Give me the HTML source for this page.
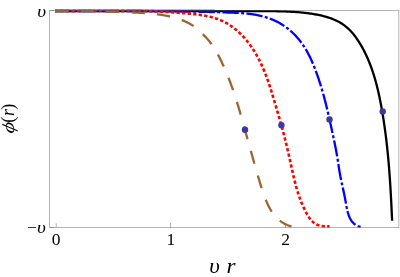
<!DOCTYPE html>
<html><head><meta charset="utf-8"><style>
html,body{margin:0;padding:0;background:#fff;}
body{width:400px;height:277px;overflow:hidden;position:relative;}
svg{position:absolute;left:0;top:0;will-change:transform;}
text{font-family:"Liberation Serif",serif;fill:#000;}
.i{font-style:italic;}
</style></head><body>
<svg width="400" height="277" viewBox="0 0 400 277">
<rect width="400" height="277" fill="#fff"/>
<g fill="none" stroke-linejoin="round">
<path d="M55.00 11.00 L56.19 11.00 L57.38 11.00 L58.56 11.00 L59.75 11.00 L60.94 11.00 L62.13 11.00 L63.32 11.00 L64.50 11.00 L65.69 11.00 L66.88 11.00 L68.07 11.00 L69.25 11.00 L70.44 11.00 L71.63 11.00 L72.82 11.00 L74.01 11.00 L75.19 11.00 L76.38 11.00 L77.57 11.00 L78.76 11.00 L79.95 11.00 L81.13 11.00 L82.32 11.00 L83.51 11.00 L84.70 11.00 L85.89 11.00 L87.07 11.00 L88.26 11.00 L89.45 11.00 L90.64 11.00 L91.82 11.00 L93.01 11.00 L94.20 11.00 L95.39 11.00 L96.58 11.00 L97.76 11.00 L98.95 11.00 L100.14 11.00 L101.33 11.00 L102.52 11.00 L103.70 11.00 L104.89 11.00 L106.08 11.00 L107.27 11.00 L108.46 11.00 L109.64 11.00 L110.83 11.00 L112.02 11.00 L113.21 11.00 L114.39 11.00 L115.58 11.00 L116.77 11.00 L117.96 11.00 L119.15 11.00 L120.33 11.00 L121.52 11.00 L122.71 11.00 L123.90 11.00 L125.09 11.00 L126.27 11.00 L127.46 11.00 L128.65 11.00 L129.84 11.00 L131.03 11.00 L132.21 11.00 L133.40 11.00 L134.59 11.00 L135.78 11.00 L136.96 11.00 L138.15 11.00 L139.34 11.00 L140.53 11.00 L141.72 11.00 L142.90 11.00 L144.09 11.00 L145.28 11.00 L146.47 11.00 L147.66 11.00 L148.84 11.00 L150.03 11.00 L151.22 11.00 L152.41 11.00 L153.60 11.00 L154.78 11.00 L155.97 11.00 L157.16 11.00 L158.35 11.00 L159.53 11.00 L160.72 11.00 L161.91 11.00 L163.10 11.00 L164.29 11.00 L165.47 11.00 L166.66 11.00 L167.85 11.00 L169.04 11.00 L170.23 11.00 L171.41 11.00 L172.60 11.00 L173.79 11.00 L174.98 11.00 L176.17 11.00 L177.35 11.00 L178.54 11.00 L179.73 11.00 L180.92 11.00 L182.10 11.00 L183.29 11.00 L184.48 11.00 L185.67 11.00 L186.86 11.00 L188.04 11.00 L189.23 11.00 L190.42 11.00 L191.61 11.00 L192.80 11.00 L193.98 11.00 L195.17 11.00 L196.36 11.00 L197.55 11.00 L198.73 11.00 L199.92 11.00 L201.11 11.00 L202.30 11.00 L203.49 11.00 L204.67 11.00 L205.86 11.00 L207.05 11.00 L208.24 11.00 L209.43 11.00 L210.61 11.00 L211.80 11.00 L212.99 11.00 L214.18 11.00 L215.33 11.09 L216.51 11.10 L217.70 11.10 L218.89 11.11 L220.08 11.12 L221.27 11.12 L222.45 11.13 L223.64 11.13 L224.83 11.14 L226.02 11.15 L227.20 11.15 L228.39 11.16 L229.58 11.16 L230.77 11.17 L231.96 11.17 L233.14 11.18 L234.33 11.18 L235.52 11.18 L236.71 11.19 L237.90 11.19 L239.08 11.19 L240.27 11.20 L241.46 11.20 L242.65 11.20 L243.83 11.20 L245.02 11.20 L246.21 11.20 L247.40 11.20 L248.59 11.20 L249.77 11.20 L250.96 11.20 L252.15 11.20 L253.34 11.20 L254.53 11.20 L255.71 11.19 L256.90 11.19 L258.09 11.19 L259.28 11.18 L260.47 11.18 L261.65 11.17 L262.84 11.17 L264.03 11.17 L265.22 11.17 L266.40 11.17 L267.59 11.17 L268.78 11.17 L269.97 11.17 L271.16 11.18 L272.34 11.19 L273.53 11.20 L274.72 11.21 L275.91 11.22 L277.10 11.24 L278.28 11.26 L279.47 11.28 L280.66 11.31 L281.85 11.34 L283.03 11.37 L284.22 11.41 L285.41 11.45 L286.59 11.50 L287.78 11.55 L288.97 11.60 L290.15 11.66 L291.34 11.73 L292.53 11.79 L293.71 11.87 L294.90 11.95 L296.08 12.03 L297.27 12.13 L298.45 12.22 L299.63 12.32 L300.82 12.43 L302.00 12.55 L303.18 12.67 L304.36 12.80 L305.54 12.94 L306.72 13.08 L307.90 13.23 L309.08 13.39 L310.25 13.55 L311.43 13.73 L312.60 13.91 L313.78 14.10 L314.95 14.30 L316.12 14.50 L317.28 14.72 L318.45 14.96 L319.61 15.20 L320.77 15.45 L321.93 15.72 L323.08 16.00 L324.23 16.30 L325.38 16.61 L326.52 16.94 L327.66 17.28 L328.79 17.64 L329.92 18.02 L331.03 18.42 L332.15 18.84 L333.25 19.27 L334.35 19.73 L335.43 20.21 L336.51 20.71 L337.58 21.24 L338.63 21.79 L339.67 22.36 L340.70 22.96 L341.71 23.58 L342.70 24.23 L343.68 24.90 L344.64 25.60 L345.58 26.33 L346.50 27.08 L347.40 27.85 L348.28 28.65 L349.14 29.47 L349.98 30.31 L350.81 31.17 L351.61 32.04 L352.40 32.93 L353.17 33.84 L353.92 34.76 L354.65 35.69 L355.37 36.64 L356.07 37.59 L356.76 38.56 L357.44 39.54 L358.10 40.53 L358.74 41.52 L359.38 42.53 L360.00 43.54 L360.61 44.56 L361.20 45.59 L361.79 46.62 L362.37 47.66 L362.94 48.70 L363.49 49.75 L364.04 50.81 L364.58 51.86 L365.11 52.93 L365.63 54.00 L366.13 55.07 L366.63 56.15 L367.12 57.23 L367.61 58.32 L368.08 59.41 L368.54 60.50 L368.99 61.60 L369.44 62.70 L369.88 63.80 L370.30 64.91 L370.72 66.02 L371.14 67.14 L371.54 68.25 L371.94 69.37 L372.32 70.50 L372.70 71.62 L373.08 72.75 L373.44 73.88 L373.80 75.01 L374.15 76.15 L374.49 77.29 L374.83 78.42 L375.16 79.57 L375.49 80.71 L375.80 81.85 L376.11 83.00 L376.42 84.15 L376.72 85.30 L377.01 86.45 L377.30 87.60 L377.58 88.76 L377.86 89.91 L378.13 91.07 L378.39 92.22 L378.66 93.38 L378.91 94.54 L379.16 95.70 L379.41 96.87 L379.65 98.03 L379.89 99.19 L380.13 100.36 L380.36 101.52 L380.59 102.69 L380.81 103.85 L381.03 105.02 L381.25 106.19 L381.46 107.36 L381.67 108.53 L381.88 109.70 L382.08 110.87 L382.28 112.04 L382.48 113.21 L382.68 114.38 L382.87 115.55 L383.06 116.73 L383.25 117.90 L383.43 119.07 L383.62 120.25 L383.80 121.42 L383.97 122.59 L384.15 123.77 L384.32 124.94 L384.49 126.12 L384.66 127.30 L384.82 128.47 L384.98 129.65 L385.14 130.83 L385.30 132.00 L385.46 133.18 L385.61 134.36 L385.76 135.54 L385.91 136.72 L386.05 137.90 L386.20 139.08 L386.34 140.25 L386.48 141.43 L386.61 142.61 L386.75 143.79 L386.88 144.98 L387.01 146.16 L387.14 147.34 L387.26 148.52 L387.39 149.70 L387.51 150.88 L387.63 152.06 L387.75 153.25 L387.86 154.43 L387.98 155.61 L388.09 156.79 L388.20 157.98 L388.31 159.16 L388.42 160.34 L388.52 161.52 L388.62 162.71 L388.73 163.89 L388.82 165.08 L388.92 166.26 L389.02 167.44 L389.11 168.63 L389.21 169.81 L389.30 171.00 L389.39 172.18 L389.48 173.36 L389.56 174.55 L389.65 175.73 L389.73 176.92 L389.82 178.10 L389.90 179.29 L389.98 180.47 L390.06 181.66 L390.13 182.84 L390.21 184.03 L390.29 185.22 L390.36 186.40 L390.43 187.59 L390.50 188.77 L390.57 189.96 L390.64 191.14 L390.71 192.33 L390.78 193.52 L390.84 194.70 L390.91 195.89 L390.97 197.07 L391.04 198.26 L391.10 199.45 L391.16 200.63 L391.22 201.82 L391.28 203.01 L391.34 204.19 L391.40 205.38 L391.45 206.57 L391.51 207.75 L391.57 208.94 L391.62 210.13 L391.68 211.31 L391.73 212.50 L391.78 213.69 L391.84 214.87 L391.89 216.06 L391.94 217.25 L391.99 218.43 L392.04 219.62 L392.09 220.81" stroke="#000" stroke-width="2.3"/>
<path d="M55.00 11.00 L56.08 11.00 L57.17 11.00 L58.25 11.00 L59.33 11.00 L60.41 11.00 L61.50 11.00 L62.58 11.00 L63.66 11.00 L64.75 11.00 L65.83 11.00 L66.91 11.00 L67.99 11.00 L69.08 11.00 L70.16 11.00 L71.24 11.00 L72.32 11.00 L73.41 11.00 L74.49 11.00 L75.57 11.00 L76.66 11.00 L77.74 11.00 L78.82 11.00 L79.90 11.00 L80.99 11.00 L82.07 11.00 L83.15 11.00 L84.24 11.00 L85.32 11.00 L86.40 11.00 L87.48 11.00 L88.57 11.00 L89.65 11.00 L90.73 11.00 L91.82 11.00 L92.90 11.00 L93.98 11.00 L95.06 11.00 L96.15 11.00 L97.23 11.00 L98.31 11.00 L99.39 11.00 L100.48 11.00 L101.56 11.00 L102.64 11.00 L103.73 11.00 L104.81 11.00 L105.89 11.00 L106.97 11.00 L108.06 11.00 L109.14 11.00 L110.22 11.00 L111.31 11.00 L112.39 11.00 L113.47 11.00 L114.55 11.00 L115.64 11.00 L116.72 11.00 L117.80 11.00 L118.88 11.00 L119.97 11.00 L121.05 11.00 L122.13 11.00 L123.22 11.00 L124.30 11.00 L125.38 11.00 L126.46 11.00 L127.55 11.00 L128.63 11.00 L129.71 11.00 L130.80 11.00 L131.88 11.00 L132.96 11.00 L134.04 11.00 L135.13 11.00 L136.21 11.00 L137.29 11.00 L138.38 11.00 L139.46 11.00 L140.54 11.00 L141.62 11.00 L142.71 11.00 L143.79 11.00 L144.87 11.00 L145.95 11.00 L147.04 11.00 L148.12 11.00 L149.20 11.00 L150.29 11.00 L151.37 11.00 L152.45 11.00 L153.49 11.09 L154.57 11.10 L155.66 11.11 L156.74 11.12 L157.82 11.13 L158.91 11.14 L159.99 11.14 L161.07 11.15 L162.15 11.16 L163.24 11.17 L164.32 11.19 L165.40 11.20 L166.49 11.21 L167.57 11.22 L168.65 11.23 L169.73 11.24 L170.82 11.26 L171.90 11.27 L172.98 11.28 L174.06 11.30 L175.15 11.31 L176.23 11.33 L177.31 11.34 L178.39 11.36 L179.48 11.37 L180.56 11.39 L181.64 11.41 L182.73 11.43 L183.81 11.44 L184.89 11.46 L185.97 11.48 L187.06 11.50 L188.14 11.52 L189.22 11.54 L190.30 11.56 L191.39 11.58 L192.47 11.60 L193.55 11.62 L194.63 11.64 L195.72 11.67 L196.80 11.69 L197.88 11.71 L198.96 11.74 L200.05 11.76 L201.13 11.78 L202.21 11.81 L203.29 11.83 L204.38 11.86 L205.46 11.89 L206.54 11.91 L207.62 11.94 L208.71 11.97 L209.79 11.99 L210.87 12.02 L211.95 12.05 L213.04 12.08 L214.12 12.11 L215.20 12.13 L216.28 12.16 L217.37 12.19 L218.45 12.22 L219.53 12.26 L220.61 12.29 L221.70 12.32 L222.78 12.35 L223.86 12.38 L224.94 12.41 L226.02 12.45 L227.11 12.48 L228.19 12.51 L229.27 12.55 L230.35 12.58 L231.44 12.62 L232.52 12.66 L233.60 12.70 L234.68 12.75 L235.76 12.79 L236.85 12.85 L237.93 12.90 L239.01 12.96 L240.09 13.03 L241.17 13.10 L242.25 13.18 L243.33 13.26 L244.41 13.35 L245.49 13.45 L246.56 13.56 L247.64 13.67 L248.72 13.79 L249.79 13.92 L250.87 14.06 L251.94 14.21 L253.01 14.37 L254.08 14.54 L255.15 14.72 L256.21 14.91 L257.27 15.11 L258.34 15.33 L259.39 15.56 L260.45 15.80 L261.50 16.05 L262.55 16.32 L263.60 16.61 L264.64 16.90 L265.68 17.21 L266.71 17.54 L267.74 17.88 L268.76 18.23 L269.78 18.60 L270.79 18.98 L271.80 19.38 L272.80 19.79 L273.79 20.22 L274.78 20.66 L275.76 21.12 L276.74 21.59 L277.70 22.08 L278.66 22.59 L279.61 23.11 L280.55 23.64 L281.48 24.20 L282.40 24.76 L283.32 25.35 L284.22 25.95 L285.11 26.56 L285.99 27.19 L286.86 27.84 L287.72 28.50 L288.57 29.17 L289.40 29.86 L290.23 30.56 L291.04 31.27 L291.84 32.00 L292.64 32.74 L293.41 33.49 L294.18 34.25 L294.94 35.03 L295.68 35.81 L296.42 36.61 L297.14 37.42 L297.85 38.24 L298.55 39.06 L299.23 39.90 L299.91 40.75 L300.57 41.60 L301.22 42.47 L301.86 43.34 L302.49 44.23 L303.10 45.12 L303.70 46.02 L304.29 46.93 L304.87 47.84 L305.44 48.76 L305.99 49.69 L306.54 50.63 L307.07 51.57 L307.59 52.52 L308.10 53.48 L308.60 54.44 L309.10 55.40 L309.58 56.37 L310.05 57.34 L310.52 58.32 L310.97 59.30 L311.42 60.29 L311.86 61.28 L312.29 62.27 L312.72 63.27 L313.14 64.27 L313.55 65.27 L313.96 66.27 L314.36 67.27 L314.76 68.28 L315.15 69.29 L315.54 70.30 L315.92 71.32 L316.30 72.33 L316.67 73.35 L317.04 74.37 L317.40 75.39 L317.76 76.41 L318.12 77.43 L318.47 78.46 L318.81 79.48 L319.15 80.51 L319.49 81.54 L319.82 82.57 L320.15 83.60 L320.47 84.63 L320.79 85.67 L321.11 86.70 L321.42 87.74 L321.73 88.78 L322.04 89.82 L322.34 90.86 L322.64 91.90 L322.94 92.94 L323.23 93.98 L323.52 95.02 L323.80 96.07 L324.09 97.11 L324.37 98.16 L324.64 99.21 L324.92 100.25 L325.19 101.30 L325.46 102.35 L325.73 103.40 L325.99 104.45 L326.25 105.50 L326.51 106.55 L326.77 107.60 L327.02 108.66 L327.28 109.71 L327.53 110.76 L327.78 111.82 L328.03 112.87 L328.27 113.92 L328.52 114.98 L328.76 116.03 L329.00 117.09 L329.24 118.15 L329.48 119.20 L329.71 120.26 L329.95 121.32 L330.18 122.37 L330.42 123.43 L330.65 124.49 L330.88 125.55 L331.11 126.60 L331.35 127.66 L331.58 128.72 L331.80 129.78 L332.03 130.84 L332.26 131.89 L332.49 132.95 L332.72 134.01 L332.95 135.07 L333.17 136.13 L333.40 137.19 L333.63 138.25 L333.85 139.31 L334.07 140.36 L334.30 141.42 L334.52 142.48 L334.73 143.55 L334.95 144.61 L335.16 145.67 L335.38 146.73 L335.58 147.79 L335.79 148.86 L335.99 149.92 L336.19 150.98 L336.39 152.05 L336.58 153.11 L336.77 154.18 L336.96 155.25 L337.14 156.31 L337.32 157.38 L337.49 158.45 L337.66 159.52 L337.83 160.59 L337.99 161.66 L338.15 162.73 L338.31 163.80 L338.47 164.87 L338.63 165.94 L338.79 167.01 L338.96 168.08 L339.12 169.15 L339.29 170.22 L339.46 171.29 L339.64 172.36 L339.82 173.43 L340.01 174.49 L340.21 175.56 L340.41 176.62 L340.62 177.69 L340.83 178.75 L341.05 179.81 L341.28 180.87 L341.50 181.93 L341.73 182.98 L341.97 184.04 L342.20 185.10 L342.44 186.15 L342.67 187.21 L342.91 188.27 L343.14 189.33 L343.38 190.38 L343.61 191.44 L343.84 192.50 L344.06 193.56 L344.29 194.62 L344.50 195.68 L344.72 196.74 L344.92 197.80 L345.13 198.87 L345.32 199.93 L345.51 201.00 L345.70 202.06 L345.88 203.13 L346.07 204.20 L346.26 205.26 L346.45 206.33 L346.66 207.39 L346.87 208.45 L347.10 209.51 L347.34 210.57 L347.60 211.62 L347.88 212.66 L348.19 213.70 L348.53 214.73 L348.90 215.75 L349.30 216.75 L349.74 217.74 L350.22 218.71 L350.76 219.65 L351.34 220.57 L351.97 221.45 L352.66 222.28 L353.40 223.07 L354.20 223.80 L355.05 224.47 L355.95 225.07 L356.90 225.60 L357.88 226.05 L358.90 226.42 L359.94 226.71 L361.00 226.92" stroke="#0000ff" stroke-width="2.3" stroke-dasharray="16.3 2.4 3.0 2.3" stroke-dashoffset="0.5"/>
<path d="M55.00 11.00 L55.98 11.00 L56.97 11.00 L57.95 11.00 L58.94 11.00 L59.92 11.00 L60.91 11.00 L61.89 11.00 L62.87 11.00 L63.86 11.00 L64.84 11.00 L65.83 11.00 L66.81 11.00 L67.80 11.00 L68.78 11.00 L69.72 11.09 L70.70 11.09 L71.69 11.09 L72.67 11.09 L73.66 11.09 L74.60 11.00 L75.58 11.00 L76.57 11.00 L77.55 11.00 L78.54 11.00 L79.52 11.00 L80.50 11.00 L81.49 11.00 L82.47 11.00 L83.46 11.00 L84.44 11.00 L85.43 11.00 L86.41 11.00 L87.39 11.00 L88.38 11.00 L89.36 11.00 L90.35 11.00 L91.33 11.00 L92.32 11.00 L93.30 11.00 L94.28 11.00 L95.27 11.00 L96.25 11.00 L97.24 11.00 L98.22 11.00 L99.21 11.00 L100.19 11.00 L101.17 11.00 L102.16 11.00 L103.14 11.00 L104.13 11.00 L105.11 11.00 L106.10 11.00 L107.08 11.00 L108.07 11.00 L109.05 11.00 L110.03 11.00 L111.02 11.00 L112.00 11.00 L112.99 11.00 L113.97 11.00 L114.96 11.00 L115.94 11.00 L116.92 11.00 L117.91 11.00 L118.89 11.00 L119.88 11.00 L120.86 11.00 L121.85 11.00 L122.83 11.00 L123.81 11.00 L124.80 11.00 L125.78 11.00 L126.77 11.00 L127.75 11.00 L128.74 11.00 L129.72 11.00 L130.70 11.00 L131.69 11.00 L132.67 11.00 L133.66 11.00 L134.64 11.00 L135.63 11.00 L136.61 11.00 L137.60 11.00 L138.58 11.00 L139.56 11.00 L140.53 11.03 L141.49 11.11 L142.47 11.13 L143.46 11.15 L144.44 11.17 L145.42 11.19 L146.41 11.21 L147.39 11.24 L148.38 11.26 L149.36 11.29 L150.34 11.32 L151.33 11.35 L152.31 11.38 L153.30 11.41 L154.28 11.44 L155.26 11.48 L156.25 11.51 L157.23 11.55 L158.21 11.59 L159.20 11.63 L160.18 11.67 L161.16 11.71 L162.15 11.76 L163.13 11.80 L164.11 11.85 L165.10 11.90 L166.08 11.95 L167.06 12.00 L168.05 12.06 L169.03 12.11 L170.01 12.17 L170.99 12.23 L171.98 12.29 L172.96 12.35 L173.94 12.42 L174.92 12.48 L175.91 12.55 L176.89 12.62 L177.87 12.69 L178.85 12.76 L179.83 12.84 L180.81 12.92 L181.79 13.00 L182.78 13.08 L183.76 13.16 L184.74 13.25 L185.72 13.33 L186.70 13.42 L187.68 13.51 L188.66 13.61 L189.64 13.70 L190.62 13.80 L191.60 13.90 L192.58 14.00 L193.55 14.10 L194.53 14.21 L195.51 14.33 L196.49 14.44 L197.46 14.57 L198.44 14.69 L199.42 14.83 L200.39 14.97 L201.36 15.11 L202.34 15.27 L203.31 15.43 L204.28 15.59 L205.25 15.77 L206.21 15.95 L207.18 16.15 L208.14 16.35 L209.10 16.57 L210.06 16.79 L211.01 17.03 L211.97 17.27 L212.92 17.53 L213.86 17.81 L214.81 18.09 L215.74 18.39 L216.68 18.70 L217.60 19.03 L218.53 19.37 L219.44 19.73 L220.36 20.10 L221.26 20.49 L222.16 20.90 L223.05 21.32 L223.93 21.75 L224.80 22.21 L225.67 22.67 L226.53 23.15 L227.38 23.65 L228.22 24.15 L229.06 24.68 L229.89 25.21 L230.70 25.76 L231.51 26.32 L232.31 26.89 L233.11 27.47 L233.89 28.07 L234.67 28.67 L235.43 29.29 L236.19 29.92 L236.94 30.56 L237.68 31.21 L238.41 31.86 L239.14 32.53 L239.85 33.21 L240.56 33.89 L241.26 34.59 L241.95 35.29 L242.63 36.00 L243.30 36.72 L243.96 37.45 L244.62 38.18 L245.27 38.92 L245.90 39.67 L246.54 40.43 L247.16 41.19 L247.77 41.96 L248.38 42.73 L248.98 43.52 L249.57 44.30 L250.15 45.10 L250.72 45.90 L251.29 46.70 L251.85 47.51 L252.40 48.33 L252.94 49.15 L253.48 49.98 L254.00 50.81 L254.52 51.64 L255.04 52.48 L255.54 53.33 L256.04 54.18 L256.53 55.03 L257.01 55.89 L257.49 56.75 L257.95 57.62 L258.42 58.49 L258.87 59.36 L259.32 60.24 L259.76 61.12 L260.19 62.00 L260.62 62.89 L261.04 63.78 L261.46 64.67 L261.87 65.56 L262.27 66.46 L262.67 67.36 L263.06 68.26 L263.45 69.17 L263.83 70.08 L264.20 70.99 L264.57 71.90 L264.94 72.81 L265.30 73.73 L265.66 74.65 L266.01 75.57 L266.35 76.49 L266.70 77.41 L267.04 78.34 L267.37 79.26 L267.70 80.19 L268.03 81.12 L268.35 82.05 L268.67 82.98 L268.98 83.91 L269.30 84.84 L269.61 85.78 L269.91 86.71 L270.22 87.65 L270.52 88.59 L270.82 89.52 L271.11 90.46 L271.41 91.40 L271.70 92.34 L271.99 93.28 L272.28 94.23 L272.56 95.17 L272.85 96.11 L273.13 97.05 L273.41 97.99 L273.69 98.94 L273.97 99.88 L274.25 100.83 L274.53 101.77 L274.81 102.71 L275.09 103.66 L275.36 104.60 L275.64 105.55 L275.92 106.49 L276.19 107.44 L276.47 108.38 L276.75 109.33 L277.03 110.27 L277.30 111.21 L277.58 112.16 L277.86 113.10 L278.13 114.05 L278.41 114.99 L278.68 115.94 L278.96 116.88 L279.23 117.83 L279.50 118.78 L279.77 119.72 L280.05 120.67 L280.32 121.61 L280.58 122.56 L280.85 123.51 L281.12 124.46 L281.38 125.40 L281.65 126.35 L281.91 127.30 L282.17 128.25 L282.43 129.20 L282.69 130.15 L282.94 131.10 L283.19 132.05 L283.45 133.00 L283.70 133.96 L283.94 134.91 L284.19 135.86 L284.44 136.82 L284.68 137.77 L284.92 138.72 L285.16 139.68 L285.40 140.63 L285.64 141.59 L285.87 142.54 L286.11 143.50 L286.34 144.46 L286.57 145.41 L286.80 146.37 L287.03 147.33 L287.26 148.29 L287.48 149.24 L287.71 150.20 L287.93 151.16 L288.15 152.12 L288.37 153.08 L288.59 154.04 L288.81 155.00 L289.03 155.96 L289.25 156.92 L289.46 157.88 L289.68 158.84 L289.89 159.80 L290.10 160.76 L290.31 161.72 L290.52 162.68 L290.73 163.65 L290.94 164.61 L291.15 165.57 L291.36 166.53 L291.57 167.49 L291.78 168.45 L291.99 169.42 L292.20 170.38 L292.42 171.34 L292.63 172.30 L292.85 173.26 L293.06 174.22 L293.28 175.18 L293.51 176.14 L293.73 177.10 L293.96 178.05 L294.19 179.01 L294.42 179.97 L294.65 180.92 L294.89 181.88 L295.13 182.83 L295.38 183.79 L295.63 184.74 L295.89 185.69 L296.14 186.64 L296.41 187.59 L296.68 188.53 L296.95 189.48 L297.23 190.42 L297.51 191.37 L297.80 192.31 L298.10 193.25 L298.40 194.18 L298.71 195.12 L299.02 196.05 L299.34 196.98 L299.67 197.91 L300.01 198.83 L300.35 199.76 L300.70 200.68 L301.06 201.59 L301.42 202.51 L301.79 203.42 L302.18 204.33 L302.57 205.23 L302.96 206.13 L303.37 207.03 L303.79 207.92 L304.21 208.81 L304.64 209.69 L305.09 210.57 L305.54 211.45 L306.00 212.31 L306.47 213.18 L306.95 214.04 L307.44 214.89 L307.95 215.73 L308.48 216.57 L309.02 217.39 L309.58 218.19 L310.18 218.98 L310.79 219.75 L311.44 220.49 L312.12 221.20 L312.84 221.87 L313.59 222.51 L314.37 223.10 L315.19 223.65 L316.05 224.14 L316.93 224.57 L317.84 224.95 L318.77 225.26 L319.72 225.52 L320.68 225.74 L321.65 225.92 L322.62 226.06 L323.60 226.17 L324.58 226.25 L325.57 226.30 L326.55 226.33 L327.53 226.34 L328.52 226.33 L329.50 226.30" stroke="#ff0000" stroke-width="2.6" stroke-dasharray="3.3 2.245" stroke-dashoffset="0.35"/>
<path d="M55.00 11.00 L55.88 11.00 L56.77 11.00 L57.65 11.00 L58.54 11.00 L59.42 11.00 L60.30 11.00 L61.19 11.00 L62.07 11.00 L62.96 11.00 L63.84 11.00 L64.72 11.00 L65.61 11.00 L66.49 11.00 L67.38 11.00 L68.26 11.00 L69.14 11.00 L70.03 11.00 L70.91 11.00 L71.80 11.00 L72.68 11.00 L73.56 11.00 L74.45 11.00 L75.33 11.00 L76.22 11.00 L77.10 11.00 L77.98 11.00 L78.87 11.00 L79.75 11.00 L80.64 11.00 L81.52 11.00 L82.41 11.00 L83.29 11.00 L84.17 11.00 L85.06 11.00 L85.94 11.00 L86.83 11.00 L87.71 11.00 L88.59 11.00 L89.48 11.00 L90.36 11.00 L91.25 11.00 L92.08 11.10 L92.97 11.12 L93.85 11.14 L94.73 11.16 L95.62 11.18 L96.50 11.20 L97.38 11.22 L98.27 11.25 L99.15 11.27 L100.04 11.29 L100.92 11.32 L101.80 11.34 L102.69 11.37 L103.57 11.39 L104.45 11.42 L105.34 11.44 L106.22 11.47 L107.10 11.50 L107.99 11.53 L108.87 11.55 L109.76 11.58 L110.64 11.61 L111.52 11.64 L112.41 11.67 L113.29 11.70 L114.17 11.73 L115.06 11.77 L115.94 11.80 L116.82 11.83 L117.71 11.86 L118.59 11.90 L119.47 11.93 L120.36 11.96 L121.24 12.00 L122.12 12.03 L123.01 12.07 L123.89 12.10 L124.77 12.14 L125.66 12.17 L126.54 12.21 L127.42 12.25 L128.31 12.28 L129.19 12.32 L130.07 12.36 L130.96 12.40 L131.84 12.43 L132.72 12.47 L133.61 12.51 L134.49 12.55 L135.37 12.59 L136.26 12.63 L137.14 12.67 L138.02 12.72 L138.91 12.76 L139.79 12.81 L140.67 12.85 L141.55 12.90 L142.44 12.96 L143.32 13.01 L144.20 13.07 L145.08 13.12 L145.96 13.19 L146.85 13.25 L147.73 13.32 L148.61 13.39 L149.49 13.46 L150.37 13.54 L151.25 13.62 L152.13 13.70 L153.01 13.79 L153.89 13.89 L154.77 13.98 L155.65 14.08 L156.52 14.19 L157.40 14.30 L158.28 14.41 L159.15 14.53 L160.03 14.66 L160.90 14.79 L161.78 14.93 L162.65 15.07 L163.52 15.22 L164.39 15.37 L165.26 15.53 L166.13 15.70 L167.00 15.87 L167.86 16.05 L168.73 16.24 L169.59 16.43 L170.45 16.63 L171.31 16.84 L172.17 17.06 L173.02 17.28 L173.87 17.51 L174.73 17.75 L175.57 17.99 L176.42 18.25 L177.27 18.51 L178.11 18.78 L178.95 19.06 L179.78 19.35 L180.61 19.65 L181.44 19.95 L182.27 20.27 L183.09 20.59 L183.91 20.93 L184.72 21.27 L185.53 21.62 L186.34 21.99 L187.14 22.37 L187.93 22.76 L188.72 23.17 L189.49 23.59 L190.27 24.02 L191.03 24.47 L191.78 24.93 L192.52 25.41 L193.26 25.90 L193.98 26.41 L194.69 26.94 L195.39 27.48 L196.08 28.03 L196.76 28.59 L197.44 29.17 L198.10 29.75 L198.76 30.34 L199.41 30.94 L200.05 31.54 L200.69 32.15 L201.33 32.77 L201.96 33.39 L202.59 34.01 L203.21 34.63 L203.84 35.26 L204.46 35.89 L205.07 36.52 L205.69 37.16 L206.29 37.80 L206.90 38.45 L207.49 39.10 L208.08 39.76 L208.66 40.43 L209.23 41.10 L209.79 41.79 L210.35 42.48 L210.89 43.18 L211.42 43.88 L211.93 44.60 L212.44 45.33 L212.93 46.06 L213.42 46.80 L213.89 47.54 L214.36 48.29 L214.82 49.05 L215.27 49.81 L215.71 50.58 L216.15 51.35 L216.58 52.12 L217.00 52.89 L217.42 53.67 L217.84 54.45 L218.25 55.23 L218.66 56.02 L219.07 56.80 L219.47 57.59 L219.87 58.38 L220.27 59.17 L220.66 59.96 L221.05 60.75 L221.43 61.55 L221.82 62.35 L222.19 63.14 L222.57 63.94 L222.94 64.75 L223.31 65.55 L223.68 66.35 L224.04 67.16 L224.40 67.97 L224.76 68.78 L225.11 69.59 L225.46 70.40 L225.81 71.21 L226.15 72.03 L226.50 72.84 L226.84 73.66 L227.17 74.47 L227.50 75.29 L227.84 76.11 L228.16 76.93 L228.49 77.76 L228.81 78.58 L229.13 79.40 L229.45 80.23 L229.76 81.05 L230.08 81.88 L230.39 82.71 L230.69 83.54 L231.00 84.37 L231.30 85.20 L231.60 86.03 L231.90 86.86 L232.19 87.70 L232.49 88.53 L232.78 89.36 L233.07 90.20 L233.36 91.04 L233.64 91.87 L233.92 92.71 L234.20 93.55 L234.48 94.39 L234.76 95.23 L235.04 96.07 L235.31 96.91 L235.58 97.75 L235.85 98.59 L236.12 99.43 L236.39 100.28 L236.65 101.12 L236.92 101.96 L237.18 102.81 L237.44 103.65 L237.70 104.50 L237.96 105.34 L238.21 106.19 L238.47 107.03 L238.72 107.88 L238.98 108.73 L239.23 109.58 L239.48 110.42 L239.73 111.27 L239.97 112.12 L240.22 112.97 L240.47 113.82 L240.71 114.67 L240.96 115.52 L241.20 116.37 L241.44 117.22 L241.69 118.07 L241.93 118.92 L242.17 119.77 L242.41 120.62 L242.65 121.47 L242.89 122.32 L243.12 123.17 L243.36 124.02 L243.60 124.88 L243.84 125.73 L244.07 126.58 L244.31 127.43 L244.54 128.28 L244.78 129.14 L245.01 129.99 L245.25 130.84 L245.48 131.69 L245.72 132.54 L245.95 133.40 L246.19 134.25 L246.42 135.10 L246.66 135.95 L246.89 136.81 L247.13 137.66 L247.37 138.51 L247.60 139.36 L247.84 140.21 L248.07 141.07 L248.31 141.92 L248.55 142.77 L248.78 143.62 L249.02 144.47 L249.26 145.32 L249.50 146.18 L249.73 147.03 L249.97 147.88 L250.21 148.73 L250.45 149.58 L250.69 150.43 L250.93 151.28 L251.17 152.13 L251.41 152.99 L251.64 153.84 L251.88 154.69 L252.12 155.54 L252.36 156.39 L252.60 157.24 L252.84 158.09 L253.08 158.94 L253.32 159.79 L253.56 160.64 L253.80 161.50 L254.04 162.35 L254.28 163.20 L254.52 164.05 L254.76 164.90 L255.00 165.75 L255.24 166.60 L255.49 167.45 L255.73 168.30 L255.97 169.15 L256.21 170.00 L256.45 170.85 L256.70 171.70 L256.94 172.55 L257.19 173.40 L257.43 174.25 L257.68 175.10 L257.93 175.95 L258.18 176.79 L258.43 177.64 L258.68 178.49 L258.93 179.34 L259.18 180.18 L259.44 181.03 L259.70 181.88 L259.95 182.72 L260.21 183.57 L260.47 184.41 L260.74 185.26 L261.00 186.10 L261.27 186.94 L261.53 187.79 L261.80 188.63 L262.08 189.47 L262.35 190.31 L262.63 191.15 L262.91 191.99 L263.19 192.82 L263.48 193.66 L263.77 194.50 L264.07 195.33 L264.37 196.16 L264.67 196.99 L264.99 197.81 L265.31 198.64 L265.63 199.46 L265.96 200.28 L266.30 201.10 L266.65 201.91 L267.01 202.72 L267.37 203.52 L267.74 204.33 L268.13 205.12 L268.52 205.92 L268.92 206.70 L269.33 207.48 L269.76 208.26 L270.19 209.03 L270.64 209.79 L271.10 210.55 L271.57 211.29 L272.06 212.03 L272.56 212.76 L273.07 213.48 L273.60 214.19 L274.14 214.89 L274.70 215.57 L275.27 216.25 L275.86 216.91 L276.46 217.55 L277.08 218.19 L277.72 218.80 L278.37 219.40 L279.04 219.98 L279.72 220.54 L280.41 221.09 L281.13 221.61 L281.85 222.11 L282.59 222.59 L283.35 223.05 L284.12 223.49 L284.90 223.91 L285.69 224.30 L286.49 224.67 L287.31 225.02 L288.13 225.34 L288.96 225.64 L289.80 225.92 L290.65 226.17 L291.50 226.40" stroke="#996633" stroke-width="2.3" stroke-dasharray="13.3 12.22"/>
</g>
<g stroke="#666666" stroke-opacity="0.49" stroke-width="1" fill="none" shape-rendering="crispEdges">
<path d="M399 10.5H49.5V227.5H399"/>
<path d="M398.8 10V228" shape-rendering="geometricPrecision"/>
<path d="M56.2 227V223.2" shape-rendering="geometricPrecision"/>
<path d="M170.5 227.5V223 M285.5 227.5V223 M49.5 10.5H53.5 M49.5 227.5H53.5"/>
</g>
<g fill="#3a3a9e">
<circle cx="245.0" cy="129.75" r="3.2"/><circle cx="281.4" cy="125.2" r="3.2"/><circle cx="329.5" cy="119.5" r="3.2"/><circle cx="382.7" cy="111.4" r="3.2"/>
</g>
<g font-size="17.5">
<text x="56.2" y="245.1" text-anchor="middle">0</text>
<text x="170.9" y="245.1" text-anchor="middle">1</text>
<text x="285.5" y="245.1" text-anchor="middle">2</text>
</g>
<text class="i" font-size="16" transform="translate(37.3 17.0) scale(1.2 1)">υ</text>
<text font-size="16" transform="translate(27.2 233.3) scale(1.08 1)">−</text>
<text class="i" font-size="16" transform="translate(37.1 232.8) scale(1.2 1)">υ</text>
<text class="i" font-size="21" transform="translate(209.3 272.9) scale(1.1 1)">υ</text>
<text class="i" font-size="21" transform="translate(226.4 272.9) scale(1.1 1)">r</text>
<g transform="translate(13.6 134.0) rotate(-90)">
<text class="i" font-size="18" transform="translate(0 0) skewX(-11) scale(1.2 0.95)">ϕ</text>
<text font-size="18" x="11.2" y="0">(</text>
<text class="i" font-size="18" x="17.9" y="0">r</text>
<text font-size="18" x="24.2" y="0">)</text>
</g>
</svg>
</body></html>
